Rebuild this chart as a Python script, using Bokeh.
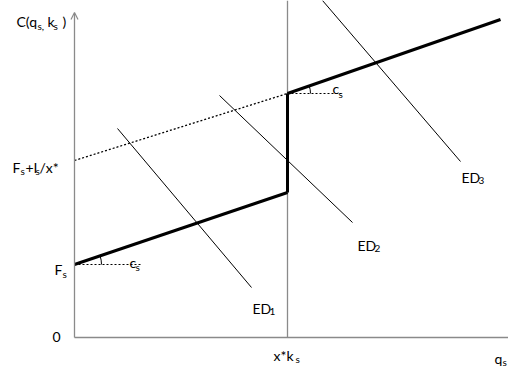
from bokeh.plotting import figure
from bokeh.models import Range1d, Arrow, OpenHead, NormalHead
from bokeh.core.properties import value
from bokeh.embed import file_html
from bokeh.resources import INLINE

# Cost schedule C(q_s, k_s): output q on x, cost on y (chart units)
q_star_k = 213                 # capacity level x*k_s
q_low = [0, 213]               # below capacity
cost_low = [73, 145]           # F_s  ... F_s + c_s x*k_s
q_high = [213, 426]            # above capacity
cost_high = [244, 318]
q_dash = [0, 213]              # extension back to the cost axis
cost_dash = [177, 244]         # F_s + I_s/x* ...

# Excess-demand curves ED1..ED3 (end points)
ed_q = [[43, 177], [145, 278], [248, 386]]
ed_c = [[209, 50], [242, 115], [337, 176]]
ed_names = ["1", "2", "3"]

OX, OY = 74, 337               # pixel location of the origin
W, H = 508, 371

p = figure(width=W, height=H, output_backend="svg", toolbar_location=None,
           x_range=Range1d(-OX, W - OX), y_range=Range1d(OY - H, OY),
           x_axis_location=None, y_axis_location=None,
           min_border=0, min_border_left=0, min_border_right=0,
           min_border_top=0, min_border_bottom=0)
p.grid.visible = False
p.outline_line_color = None
p.background_fill_color = "white"
p.border_fill_color = "white"

AX = "#8a8a8a"
FONT = "Lato"


def X(px):
    return px - OX


def Y(py):
    return OY - py


# axes
p.segment(x0=[0], y0=[0], x1=[W - OX], y1=[0], line_color=AX, line_width=1.3)
p.add_layout(Arrow(end=OpenHead(size=7, line_color=AX, line_width=1.2),
                   x_start=0, y_start=0, x_end=0, y_end=Y(12),
                   line_color=AX, line_width=1.3))
# capacity line
p.segment(x0=[q_star_k], y0=[0], x1=[q_star_k], y1=[OY], line_color=AX, line_width=1.3)

# demand curves
for qs, cs in zip(ed_q, ed_c):
    p.line(qs, cs, line_color="black", line_width=1)

# dashed extension
p.line(q_dash, cost_dash, line_color="black", line_width=1.3, line_dash="2 2")

# horizontal reference lines for the slope c_s
p.line([0, X(140)], [cost_low[0], cost_low[0]], line_color="black", line_width=1, line_dash="2 2")
p.line([q_high[0], X(342)], [cost_high[0], cost_high[0]], line_color="black", line_width=1, line_dash="2 2")

# cost schedule
p.line(q_low, cost_low, line_color="black", line_width=3)
p.line([q_star_k, q_star_k], [cost_low[1], cost_high[0]], line_color="black", line_width=3)
p.line(q_high, cost_high, line_color="black", line_width=3)

# angle marks
import math
a1 = math.atan2(cost_low[1] - cost_low[0], q_low[1] - q_low[0])
a2 = math.atan2(cost_high[1] - cost_high[0], q_high[1] - q_high[0])
p.arc(x=[0], y=[cost_low[0]], radius=27, start_angle=0, end_angle=a1,
      line_color="black", line_width=1)
p.arc(x=[q_high[0]], y=[cost_high[0]], radius=23, start_angle=0, end_angle=a2,
      line_color="black", line_width=1)


def txt(px, py, s, size=14):
    p.text(x=[X(px)], y=[Y(py)], text=[s], text_font=value(FONT),
           text_font_size=f"{size}px", text_baseline="alphabetic",
           text_align="left", text_color="black")


SUB = 10
# cost axis title
txt(16, 21, "C(q")
txt(37, 25, "s,", SUB)
txt(47, 21, "k")
txt(53, 25, "s", SUB)
txt(62, 21, ")")

# F_s + I_s / x*
txt(12, 167, "F")
txt(20, 170, "s", SUB)
txt(25, 167, "+I")
txt(35, 170, "s", SUB)
txt(39, 167, "/x*")

# F_s
txt(54, 269, "F")
txt(62, 273, "s", SUB)
# origin
txt(52, 336, "0")

# slopes c_s
txt(129, 262, "c")
txt(135, 266, "s", SUB)
txt(332, 88, "c")
txt(338, 93, "s", SUB)

# ED labels
ed_lab = [(252, 308), (357, 245), (461, 177)]
for (lx, ly), n in zip(ed_lab, ed_names):
    txt(lx, ly, "ED")
    txt(lx + 17, ly + 3, n, SUB)

# x*k_s and q_s
txt(273, 355, "x*k")
txt(295, 358, "s", SUB)
txt(494, 358, "q")
txt(502, 361, "s", SUB)

open("out.html", "w").write(file_html(p, INLINE))
